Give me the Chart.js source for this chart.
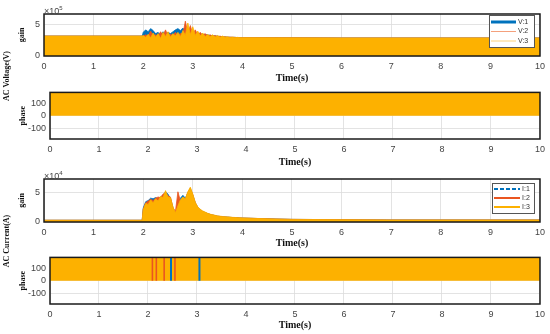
<!DOCTYPE html>
<html>
<head>
<meta charset="utf-8">
<script src="https://cdn.jsdelivr.net/npm/chart.js@4.4.0/dist/chart.umd.min.js"></script>
<style>
  body { margin: 0; background: #fff; }
  #fig { position: relative; width: 550px; height: 334px; overflow: hidden; background: #fff; }
  canvas { position: absolute; left: 0; }
  .ylab { position: absolute; font: bold 8px "Liberation Serif", "Times New Roman", serif; white-space: nowrap;
          transform: translate(-50%, -50%) rotate(-90deg); color: #111; }
  .mult { position: absolute; font: 9px "Liberation Sans", Arial, sans-serif; color: #444; line-height: 10px; }
  .mult sup { font-size: 6px; vertical-align: 4px; }
</style>
</head>
<body>
<div id="fig">
  <canvas id="gainV" width="550" height="84" style="top:0"></canvas>
  <canvas id="phaseV" width="550" height="85" style="top:83px"></canvas>
  <canvas id="gainI" width="550" height="81" style="top:168px"></canvas>
  <canvas id="phaseI" width="550" height="83" style="top:248px"></canvas>
  <div class="ylab" style="left:6px; top:76px">AC Voltage(V)</div>
  <div class="ylab" style="left:6px; top:241px">AC Current(A)</div>
  <div class="mult" style="left:44px; top:3px">×10<sup>5</sup></div>
  <div class="mult" style="left:44px; top:168px">×10<sup>4</sup></div>
</div>
<script>
// time samples for the gain plots (s)
const timeGain = [
  0, 1.98, 2.00, 2.05, 2.10, 2.15, 2.20, 2.25, 2.30, 2.35,
  2.40, 2.45, 2.50, 2.55, 2.60, 2.65, 2.70, 2.75, 2.80, 2.85,
  2.90, 2.95, 3.00, 3.05, 3.10, 3.15, 3.20, 3.25, 3.30, 3.35,
  3.40, 3.45, 3.50, 3.55, 3.60, 3.65, 3.70, 3.75, 3.80, 3.85,
  3.90, 3.95, 4.00, 4.5, 5, 6, 7, 8, 9, 10
];

// AC voltage gain (x1e5)
const gainV1 = [
  3.2, 3.2, 3.8, 4.2, 3.9, 4.4, 4.1, 3.6, 3.8, 3.4,
  3.9, 3.5, 3.8, 3.6, 3.9, 4.2, 4.4, 4.1, 4.5, 4.0,
  3.9, 3.7, 3.8, 3.6, 3.6, 3.5, 3.5, 3.4, 3.4, 3.3,
  3.3, 3.2, 3.2, 3.1, 3.1, 3.05, 3.05, 3.0, 3.0, 3.0,
  2.95, 2.95, 2.95, 2.93, 2.92, 2.9, 2.9, 2.9, 2.9, 2.9
];
const gainV2 = [
  3.2, 3.2, 3.2, 3.4, 3.2, 4.0, 3.3, 3.4, 3.2, 3.9,
  3.3, 4.2, 3.2, 3.5, 3.3, 3.8, 3.4, 3.6, 3.5, 5.6,
  3.6, 4.9, 3.5, 4.2, 3.4, 3.8, 3.3, 3.6, 3.2, 3.4,
  3.1, 3.3, 3.1, 3.2, 3.0, 3.1, 3.0, 3.05, 3.0, 3.0,
  2.95, 2.95, 2.95, 2.93, 2.92, 2.9, 2.9, 2.9, 2.9, 2.9
];
const gainV3 = [
  3.2, 3.2, 3.3, 3.0, 3.5, 2.9, 3.7, 3.0, 3.6, 2.8,
  3.8, 3.1, 3.9, 3.0, 3.6, 3.2, 3.8, 3.1, 4.1, 3.3,
  5.3, 3.4, 4.7, 3.3, 4.0, 3.2, 3.7, 3.1, 3.5, 3.1,
  3.4, 3.05, 3.3, 3.0, 3.2, 3.0, 3.1, 2.95, 3.05, 2.95,
  3.0, 2.95, 2.95, 2.93, 2.92, 2.9, 2.9, 2.9, 2.9, 2.9
];

// AC current gain (x1e4)
const gainI1 = [
  0.3, 0.3, 2.4, 3.5, 3.7, 4.1, 4.0, 4.2, 4.0, 4.3,
  4.6, 5.2, 4.8, 4.0, 2.5, 1.5, 3.0, 4.1, 4.6, 4.1,
  5.0, 5.7, 4.6, 3.3, 2.5, 2.1, 1.8, 1.6, 1.45, 1.3,
  1.2, 1.1, 1.0, 0.95, 0.9, 0.87, 0.84, 0.8, 0.77, 0.74,
  0.72, 0.7, 0.68, 0.55, 0.45, 0.4, 0.35, 0.35, 0.35, 0.35
];
const gainI2 = [
  0.3, 0.3, 2.2, 3.3, 3.6, 3.9, 3.7, 4.1, 4.3, 4.2,
  4.8, 5.0, 4.5, 4.3, 2.4, 1.8, 5.2, 3.6, 4.2, 3.9,
  5.1, 5.8, 4.7, 3.3, 2.5, 2.1, 1.8, 1.6, 1.45, 1.3,
  1.2, 1.1, 1.0, 0.95, 0.9, 0.87, 0.84, 0.8, 0.77, 0.74,
  0.72, 0.7, 0.68, 0.55, 0.45, 0.4, 0.35, 0.35, 0.35, 0.35
];
const gainI3 = [
  0.3, 0.3, 2.1, 3.2, 3.0, 3.8, 3.3, 4.0, 3.6, 4.4,
  4.2, 5.4, 4.3, 4.2, 2.6, 1.6, 2.8, 3.8, 4.3, 4.0,
  5.2, 6.0, 4.8, 3.4, 2.6, 2.2, 1.9, 1.7, 1.5, 1.35,
  1.25, 1.15, 1.05, 1.0, 0.95, 0.9, 0.88, 0.85, 0.8, 0.78,
  0.75, 0.72, 0.7, 0.55, 0.45, 0.4, 0.35, 0.35, 0.35, 0.35
];

// phase (deg)
const timePhase = [0, 10];
const phaseV3 = [180, 180];
const phaseI3 = [180, 180];
const jumpTimesI1 = [2.47, 3.05];
const jumpTimesI2 = [2.09, 2.17, 2.33, 2.55];
const jumpTop = 180;

// tick labels
const gainTicks = [0, 5];
const phaseTicks = [-100, 0, 100];

const BLUE = '#0072BD';
const RED = '#EA5520';
const ORANGE = '#FDB100';
const SANS = '"Liberation Sans", Arial, sans-serif';
const SERIF = '"Liberation Serif", "Times New Roman", serif';

const toPoints = (xs, ys) => xs.map((x, i) => ({ x: x, y: ys[i] }));
const toJumps = ts => ts.flatMap(t => [{ x: t, y: 0 }, { x: t, y: jumpTop }, { x: t, y: null }]);

// box around the plot area, like matlab
const frame = {
  id: 'frame',
  afterDatasetsDraw(chart) {
    const a = chart.chartArea;
    const ctx = chart.ctx;
    ctx.save();
    ctx.strokeStyle = '#1a1a1a';
    ctx.lineWidth = 1.5;
    ctx.strokeRect(a.left, a.top, a.right - a.left, a.bottom - a.top);
    ctx.restore();
  }
};

// legend drawn inside the top right corner
const boxLegend = {
  id: 'boxLegend',
  afterDraw(chart, args, opts) {
    const a = chart.chartArea;
    const ctx = chart.ctx;
    const x0 = a.right - opts.right - opts.width;
    const y0 = a.top + opts.top;
    ctx.save();
    ctx.fillStyle = '#fff';
    ctx.fillRect(x0, y0, opts.width, opts.height);
    ctx.strokeStyle = '#555';
    ctx.lineWidth = 1;
    ctx.strokeRect(x0 + 0.5, y0 + 0.5, opts.width, opts.height);
    ctx.font = '7px ' + SANS;
    ctx.textBaseline = 'middle';
    chart.data.datasets.filter(d => d.legendLine).forEach((d, i) => {
      const y = y0 + opts.first + i * opts.step;
      ctx.beginPath();
      ctx.strokeStyle = d.legendLine.color;
      ctx.lineWidth = d.legendLine.width;
      ctx.setLineDash(d.legendLine.dash || []);
      ctx.moveTo(x0 + 2, y);
      ctx.lineTo(x0 + 2 + opts.lineLen, y);
      ctx.stroke();
      ctx.setLineDash([]);
      ctx.fillStyle = '#333';
      ctx.fillText(d.label, x0 + 4 + opts.lineLen, y);
    });
    ctx.restore();
  }
};

function areaSet(label, data, color, order, legendLine) {
  return {
    label: label, data: data, borderColor: color, backgroundColor: color,
    borderWidth: 0.8, fill: 'origin', pointRadius: 0, tension: 0, order: order,
    legendLine: legendLine
  };
}

function jumpSet(label, data, color, width, order) {
  return {
    label: label, data: data, borderColor: color, borderWidth: width,
    fill: false, pointRadius: 0, spanGaps: false, order: order
  };
}

function makePanel(id, cfg) {
  const ctx = document.getElementById(id).getContext('2d');
  return new Chart(ctx, {
    type: 'line',
    data: { datasets: cfg.datasets },
    options: {
      responsive: false,
      animation: false,
      devicePixelRatio: 1,
      layout: { padding: { top: cfg.top, right: 6, left: 0, bottom: 0 } },
      plugins: {
        legend: { display: false },
        tooltip: { enabled: false },
        boxLegend: cfg.legend || false
      },
      scales: {
        x: {
          type: 'linear', min: 0, max: 10,
          afterFit: s => { s.height = cfg.xHeight; },
          ticks: { stepSize: 1, padding: 5, maxRotation: 0, color: '#444', font: { family: SANS, size: 9 } },
          grid: { color: '#dcdcdc', lineWidth: 0.8, drawTicks: false },
          border: { display: false },
          title: { display: true, text: 'Time(s)', color: '#111', padding: 0,
                   font: { family: SERIF, size: 10, weight: 'bold' } }
        },
        y: {
          type: 'linear', min: cfg.yMin, max: cfg.yMax,
          afterFit: s => { s.width = cfg.yWidth; },
          afterBuildTicks: s => { s.ticks = cfg.yTicks.map(v => ({ value: v })); },
          ticks: { padding: 4, color: '#444', font: { family: SANS, size: 9 } },
          grid: { color: '#dcdcdc', lineWidth: 0.8, drawTicks: false },
          border: { display: false },
          title: { display: true, text: cfg.yTitle, color: '#111', padding: { top: cfg.yTitlePad, bottom: 0 },
                   font: { family: SERIF, size: 8, weight: 'bold' } }
        }
      }
    },
    plugins: [frame, boxLegend]
  });
}

// AC voltage gain
makePanel('gainV', {
  top: 14, xHeight: 28, yWidth: 44, yMin: 0, yMax: 6.75, yTicks: gainTicks,
  yTitle: 'gain', yTitlePad: 17,
  legend: { right: 6, top: 1, width: 45, height: 32, first: 7, step: 9.5, lineLen: 25 },
  datasets: [
    areaSet('V:1', toPoints(timeGain, gainV1), BLUE, 2, { color: BLUE, width: 3 }),
    areaSet('V:2', toPoints(timeGain, gainV2), RED, 1, { color: '#F4A07C', width: 1 }),
    areaSet('V:3', toPoints(timeGain, gainV3), ORANGE, 0, { color: '#FDD27A', width: 1 })
  ]
});

// AC voltage phase
makePanel('phaseV', {
  top: 6, xHeight: 29, yWidth: 50, yMin: -185, yMax: 185, yTicks: phaseTicks,
  yTitle: 'phase', yTitlePad: 18.5,
  datasets: [
    areaSet('V:3', toPoints(timePhase, phaseV3), ORANGE, 0)
  ]
});

// AC current gain
makePanel('gainI', {
  top: 11, xHeight: 27, yWidth: 44, yMin: 0, yMax: 7.4, yTicks: gainTicks,
  yTitle: 'gain', yTitlePad: 17,
  legend: { right: 6, top: 4, width: 42, height: 30, first: 6, step: 9, lineLen: 26 },
  datasets: [
    areaSet('I:1', toPoints(timeGain, gainI1), BLUE, 2, { color: BLUE, width: 2, dash: [4, 2] }),
    areaSet('I:2', toPoints(timeGain, gainI2), RED, 1, { color: RED, width: 2 }),
    areaSet('I:3', toPoints(timeGain, gainI3), ORANGE, 0, { color: ORANGE, width: 2 })
  ]
});

// AC current phase
makePanel('phaseI', {
  top: 6, xHeight: 27, yWidth: 50, yMin: -185, yMax: 185, yTicks: phaseTicks,
  yTitle: 'phase', yTitlePad: 18.5,
  datasets: [
    jumpSet('I:1', toJumps(jumpTimesI1), BLUE, 2, 0),
    jumpSet('I:2', toJumps(jumpTimesI2), RED, 1.6, 1),
    areaSet('I:3', toPoints(timePhase, phaseI3), ORANGE, 2)
  ]
});
</script>
</body>
</html>
